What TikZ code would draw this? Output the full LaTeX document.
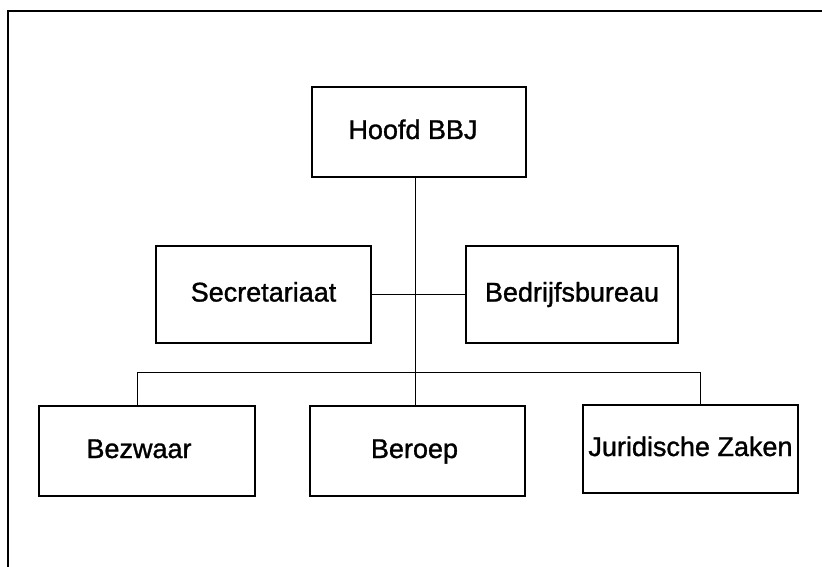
\documentclass[tikz,border=0pt]{standalone}
\usepackage{fontspec}
\setmainfont{Liberation Sans}[UprightFeatures={FakeBold=1.2}]
\begin{document}
\begin{tikzpicture}[x=1pt,y=-1pt,
  orgbox/.style={draw=black,line width=1.4pt,rectangle,inner sep=0pt,
    text height=20pt,text depth=6pt,
    font=\fontsize{27}{30}\selectfont},
  conn/.style={draw=black,line width=0.9pt},
  frame/.style={draw=black,line width=2pt}]
\useasboundingbox (0,0) rectangle (822,567);
% outer frame (only top and left visible)
\coordinate (fl) at (7.5,567);
\coordinate (ftl) at (7.5,11);
\coordinate (fr) at (822,11);
\draw[frame] (fl) -- (ftl) -- (fr);
% boxes
\node[orgbox,minimum width=214pt,minimum height=90pt] (hoofd) at (419,132) {\hspace*{-12pt}Hoofd BBJ};
\node[orgbox,minimum width=215pt,minimum height=97pt] (secr) at (263.5,294.5) {Secretariaat};
\node[orgbox,minimum width=212pt,minimum height=97pt] (bedr) at (572,294.5) {Bedrijfsbureau};
\node[orgbox,minimum width=216pt,minimum height=90pt] (bezw) at (147,451) {\hspace*{-16pt}Bezwaar};
\node[orgbox,minimum width=215pt,minimum height=90pt] (bero) at (417.5,451) {\hspace*{-6pt}Beroep};
\node[orgbox,minimum width=215pt,minimum height=88pt] (juri) at (690.5,449) {Juridische Zaken};
% connectors
\coordinate (trunk) at (415,372);
\coordinate (busl) at (137,372);
\coordinate (busr) at (700,372);
\draw[conn] (hoofd.south -| trunk) -- (trunk);
\draw[conn] (secr.east) -- (bedr.west);
\draw[conn] (busl |- bezw.north) -- (busl) -- (busr) -- (busr |- juri.north);
\draw[conn] (trunk) -- (trunk |- bero.north);
\end{tikzpicture}
\end{document}
